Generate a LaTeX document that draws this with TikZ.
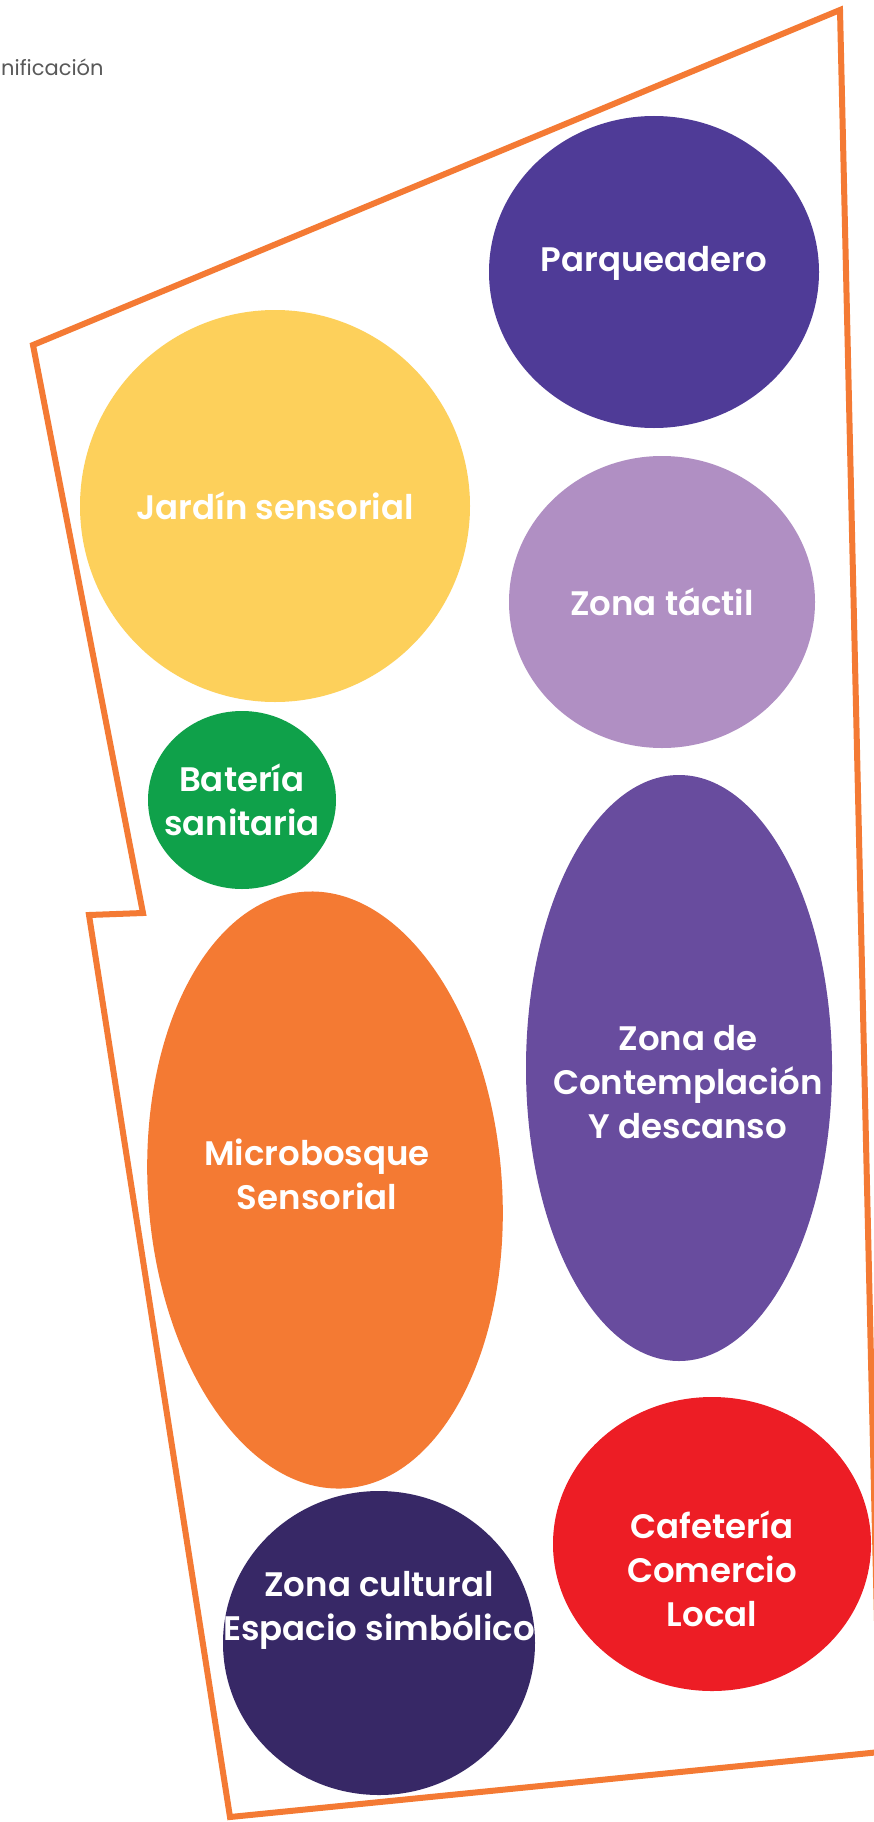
\documentclass[tikz,border=0pt]{standalone}
\usepackage{fontspec}
\setmainfont{Poppins}[BoldFont={Poppins SemiBold}]
\usetikzlibrary{shapes.geometric,positioning}
\definecolor{edgeorange}{HTML}{F47A34}
\definecolor{parqcol}{HTML}{4F3B97}
\definecolor{jardincol}{HTML}{FDD05B}
\definecolor{tactilcol}{HTML}{B08FC3}
\definecolor{banocol}{HTML}{0FA14A}
\definecolor{contempcol}{HTML}{684C9E}
\definecolor{microcol}{HTML}{F47A33}
\definecolor{cafecol}{HTML}{ED1D25}
\definecolor{culturacol}{HTML}{372866}
\tikzset{
  zone/.style={ellipse, inner sep=0pt, draw=none},
  zonetext/.style={text=white, font=\fontsize{34}{44}\selectfont\bfseries, align=center},
}
\begin{document}
\begin{tikzpicture}[x=1pt,y=-1pt]
        \useasboundingbox (0,0) rectangle (874,1822);
        \fill[white] (0,0) rectangle (874,1822);
        %Title
        \node[anchor=base west, inner sep=0pt, text=black!65, font=\fontsize{21}{25}\selectfont] (title) at (1,76) {nificación};
        %Zones
        \node[zone, fill=parqcol, minimum width=330pt, minimum height=312pt] (parq) at (654,272) {};
        \node[zone, fill=jardincol, minimum width=390pt, minimum height=392pt] (jardin) at (275,506) {};
        \node[zone, fill=tactilcol, minimum width=306pt, minimum height=292pt] (tactil) at (662,602) {};
        \node[zone, fill=banocol, minimum width=188pt, minimum height=178pt] (bano) at (242,800) {};
        \node[zone, fill=contempcol, minimum width=306pt, minimum height=586pt] (contemp) at (679,1068) {};
        \node[zone, fill=microcol, minimum width=354pt, minimum height=598pt, rotate=4] (micro) at (325,1190) {};
        \node[zone, fill=cafecol, minimum width=318pt, minimum height=294pt] (cafe) at (712,1544) {};
        \node[zone, fill=culturacol, minimum width=312pt, minimum height=304pt] (cultura) at (379,1643) {};
        %Labels
        \node[zonetext] (parqtext) at ([yshift=9pt]parq.center) {Parqueadero};
        \node[zonetext] (jardintext) at (jardin.center) {Jardín sensorial};
        \node[zonetext] (tactiltext) at (tactil.center) {Zona táctil};
        \node[zonetext] (banotext) at (bano.center) {Batería\\sanitaria};
        \node[zonetext] (contemptext) at ([xshift=9pt,yshift=-14pt]contemp.center) {Zona de\\Contemplación\\Y descanso};
        \node[zonetext] (microtext) at ([xshift=-8pt,yshift=16pt]micro.center) {Microbosque\\Sensorial};
        \node[zonetext] (cafetext) at ([yshift=-25pt]cafe.center) {Cafetería\\Comercio\\Local};
        \node[zonetext] (culturatext) at ([yshift=33pt]cultura.center) {Zona cultural\\Espacio simbólico};
        %Site outline
        \coordinate (p1) at (840,10);
        \coordinate (p2) at (33,345);
        \coordinate (p3) at (143,913);
        \coordinate (p4) at (89,915);
        \coordinate (p5) at (230,1817);
        \coordinate (p6) at (880,1752);
        \begin{scope}
          \clip (0,0) rectangle (874,1822);
          \draw[edgeorange, line width=6pt, line join=miter] (p1) -- (p2) -- (p3) -- (p4) -- (p5) -- (p6) -- cycle;
        \end{scope}
      \end{tikzpicture}
\end{document}
